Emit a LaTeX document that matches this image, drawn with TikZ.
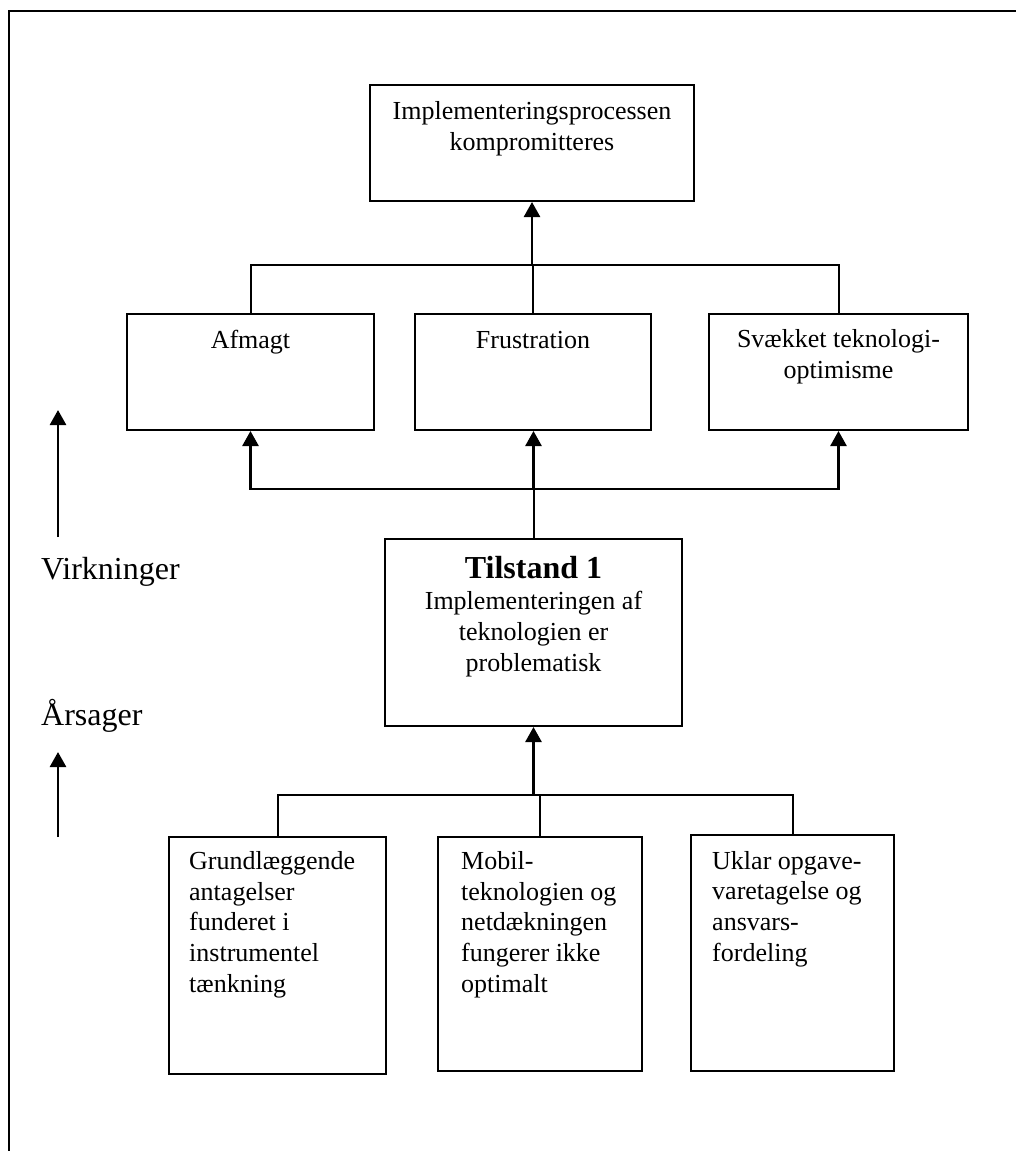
\documentclass[tikz,border=0pt]{standalone}
\usepackage{fontspec}
\setmainfont{Liberation Serif}
\usetikzlibrary{arrows.meta}

\begin{document}
\begin{tikzpicture}[x=1pt,y=-1pt,
  box/.style={draw, line width=2pt, inner sep=0pt, anchor=north west},
  txt/.style={inner sep=0pt, font=\fontsize{26}{30.6}\selectfont},
  ctxt/.style={txt, align=center, anchor=base},
  ltxt/.style={txt, align=left, anchor=base west},
  side/.style={inner sep=0pt, anchor=base west, font=\fontsize{32}{36}\selectfont},
  bus/.style={line width=2pt},
  arr/.style={line width=2.6pt, -{Triangle[length=15pt,width=16pt]}}
]
\useasboundingbox (0,0) rectangle (1016,1151);

% page frame (open at right and bottom)
\draw[line width=2pt] (9,1151) -- (9,10.5) -- (1016,10.5);

% result (multi-line texts are placed by the baseline of their last line)
\node[box, minimum width=324pt, minimum height=116pt] (top) at (369,84) {};
\node[ctxt, yshift=-66pt] (toptxt) at (top.north) {Implementeringsprocessen\\kompromitteres};

% effects
\node[box, minimum width=247pt, minimum height=116pt] (afm) at (126,313) {};
\node[box, minimum width=236pt, minimum height=116pt] (fru) at (414,313) {};
\node[box, minimum width=259pt, minimum height=116pt] (sva) at (708,313) {};
\node[ctxt, yshift=-35pt] (afmtxt) at (afm.north) {Afmagt};
\node[ctxt, yshift=-35pt] (frutxt) at (fru.north) {Frustration};
\node[ctxt, yshift=-65pt] (svatxt) at (sva.north) {Svækket teknologi-\\optimisme};

% state
\node[box, minimum width=297pt, minimum height=187pt] (til) at (384,538) {};
\node[inner sep=0pt, anchor=base, yshift=-40pt, font=\bfseries\fontsize{32}{36}\selectfont] (tiltitle) at (til.north) {Tilstand 1};
\node[ctxt, yshift=-133pt] (tiltxt) at (til.north) {Implementeringen af\\teknologien er\\problematisk};

% causes
\node[box, minimum width=217pt, minimum height=237pt] (ga) at (168,836) {};
\node[box, minimum width=204pt, minimum height=234pt] (gb) at (437,836) {};
\node[box, minimum width=203pt, minimum height=236pt] (gc) at (690,834) {};
\node[ltxt] (gatxt) at (189,992) {Grundlæggende\\antagelser\\funderet i\\instrumentel\\tænkning};
\node[ltxt] (gbtxt) at (461,992) {Mobil-\\teknologien og\\netdækningen\\fungerer ikke\\optimalt};
\node[ltxt] (gctxt) at (712,961) {Uklar opgave-\\varetagelse og\\ansvars-\\fordeling};

% effects -> result
\coordinate (busT) at (top.south |- 0,265);
\draw[bus] (afm.north) |- (busT) -| (sva.north);
\draw[bus] (fru.north) -- (fru.north |- busT);
\draw[arr] (busT) -- (top.south);

% state -> effects
\coordinate (busM) at (til.north |- 0,489);
\draw[bus] (til.north) -- (busM);
\draw[arr] (busM) -| (afm.south);
\draw[arr] (busM) -| (sva.south);
\draw[arr] (busM) -- (busM |- fru.south);

% causes -> state
\coordinate (busB) at (til.south |- 0,795);
\draw[bus] (ga.north) |- (busB) -| (gc.north);
\draw[bus] (gb.north) -- (gb.north |- busB);
\draw[arr] (busB) -- (til.south);

% reading direction
\node[side] (virk) at (41,579) {Virkninger};
\node[side] (aars) at (41,725) {Årsager};
\coordinate (va) at (58,537);
\coordinate (vb) at (58,410);
\coordinate (aa) at (58,837);
\coordinate (ab) at (58,752);
\draw[arr] (va) -- (vb);
\draw[arr] (aa) -- (ab);
\end{tikzpicture}
\end{document}
